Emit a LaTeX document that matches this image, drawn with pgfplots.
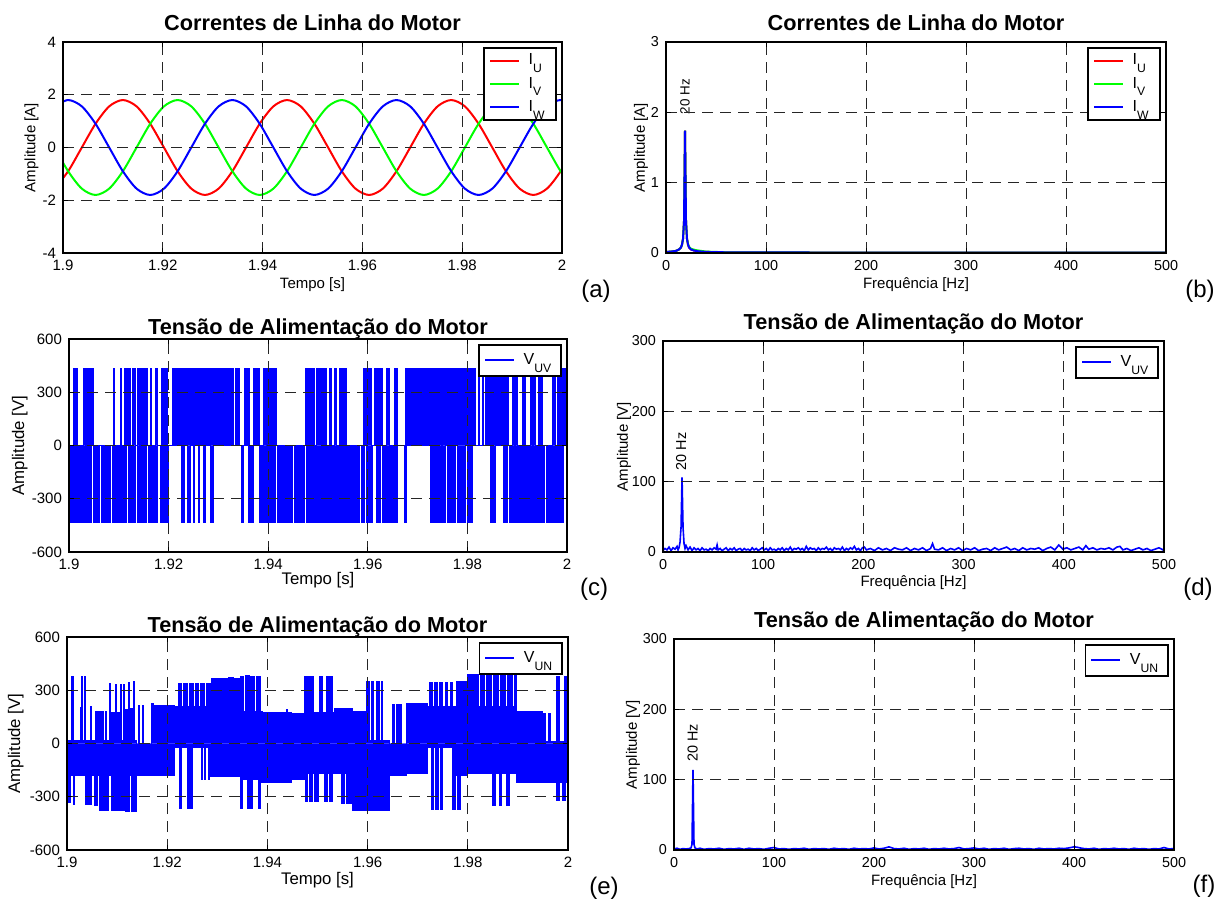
\documentclass[border=0pt]{standalone}
\usepackage{fontspec}
\setmainfont{Liberation Sans}
\usepackage{pgfplots}
\usepackage{pgfplotstable}
\pgfplotsset{compat=1.18}
\newcommand{\lsub}[1]{\raisebox{-3.9pt}{\fontsize{6.1}{6.5}\selectfont #1}}
\pgfplotsset{
 mstyle/.style={
  scale only axis, anchor=north west, axis on top,
  every axis title shift=0pt,
  axis line style={line width=0.75pt},
  grid=major,
  major grid style={black!85, dash pattern=on 5.5pt off 3.5pt, line width=0.5pt},
  tick align=inside, major tick length=2.5pt,
  tick style={black, line width=0.5pt},
  ticklabel style={font=\fontsize{7.5}{8}\selectfont},
  label style={font=\fontsize{7.5}{9}\selectfont},
  xlabel style={anchor=center}, ylabel style={anchor=center},
  title style={font=\bfseries\fontsize{10.85}{12}\selectfont, at={(axis description cs:0.5,1)}, anchor=base},
  legend style={draw=black, line width=0.85pt, fill=white, at={(1,1)}, anchor=north east,
    xshift=-2.75pt, yshift=-2.5pt, inner xsep=2.5pt, inner ysep=2.1pt,
    font=\fontsize{8}{8.5}\selectfont, row sep=3.1pt,
    nodes={inner sep=0.8pt},
    /tikz/every odd column/.append style={column sep=3.5pt}},
  legend cell align=left,
  legend image code/.code={\draw[#1, line width=1pt] (0pt,0pt) -- (14.5pt,0pt);},
 },
 onestyle/.style={legend style={inner ysep=3.4pt, row sep=0pt}},
}
\pgfplotstableread{
t r g b
1.89829 -1.559 0 1.559
1.90103 -0.9 -0.9 1.8
1.90377 0 -1.559 1.559
1.90652 0.9 -1.8 0.9
1.90926 1.559 -1.559 0
1.91200 1.8 -0.9 -0.9
1.91474 1.559 0 -1.559
1.91748 0.9 0.9 -1.8
1.92023 0 1.559 -1.559
1.92297 -0.9 1.8 -0.9
1.92571 -1.559 1.559 0
1.92845 -1.8 0.9 0.9
1.93119 -1.559 0 1.559
1.93394 -0.9 -0.9 1.8
1.93668 0 -1.559 1.559
1.93942 0.9 -1.8 0.9
1.94216 1.559 -1.559 0
1.94490 1.8 -0.9 -0.9
1.94764 1.559 0 -1.559
1.95038 0.9 0.9 -1.8
1.95313 0 1.559 -1.559
1.95587 -0.9 1.8 -0.9
1.95861 -1.559 1.559 0
1.96135 -1.8 0.9 0.9
1.96409 -1.559 0 1.559
1.96683 -0.9 -0.9 1.8
1.96958 0 -1.559 1.559
1.97232 0.9 -1.8 0.9
1.97506 1.559 -1.559 0
1.97780 1.8 -0.9 -0.9
1.98054 1.559 0 -1.559
1.98328 0.9 0.9 -1.8
1.98603 0 1.559 -1.559
1.98877 -0.9 1.8 -0.9
1.99151 -1.559 1.559 0
1.99425 -1.8 0.9 0.9
1.99699 -1.559 0 1.559
1.99973 -0.9 -0.9 1.8
2.00248 0 -1.559 1.559
}\currents
\begin{document}
\begin{tikzpicture}
\useasboundingbox (0,0) rectangle (610pt,-453pt);
% (a)
\begin{axis}[mstyle, at={(31.5pt,-21pt)}, width=249.5pt, height=105.5pt,
 xmin=1.9, xmax=2, ymin=-4, ymax=4,
 xtick={1.9,1.92,1.94,1.96,1.98,2}, xticklabels={1.9,1.92,1.94,1.96,1.98,2},
 ytick={-4,-2,0,2,4}, yticklabels={-4,-2,0,2,4},
 title={Correntes de Linha do Motor}, title style={yshift=5.6pt},
 xlabel={Tempo [s]}, xlabel style={at={(axis description cs:0.5,-0.152)}},
 ylabel={Amplitude [A]}, ylabel style={at={(axis description cs:-0.063,0.5)}},
]
\addplot[red, line width=1pt, smooth] table[x=t,y=r] {\currents};
\addlegendentry{I\lsub{U}\rule{2.2pt}{0pt}}
\addplot[green, line width=1pt, smooth] table[x=t,y=g] {\currents};
\addlegendentry{I\lsub{V}\rule{2.2pt}{0pt}}
\addplot[blue, line width=1pt, smooth] table[x=t,y=b] {\currents};
\addlegendentry{I\lsub{W}\rule{2.2pt}{0pt}}
\end{axis}
% (b)
\begin{axis}[mstyle, at={(333pt,-21pt)}, width=250pt, height=105.5pt,
 xmin=0, xmax=500, ymin=0, ymax=3,
 ticklabel style={font=\fontsize{7.2}{8}\selectfont},
 xtick={0,100,200,300,400,500}, xticklabels={0,100,200,300,400,500},
 ytick={0,1,2,3}, yticklabels={0,1,2,3},
 title={Correntes de Linha do Motor}, title style={yshift=5.6pt},
 xlabel={Frequência [Hz]}, xlabel style={at={(axis description cs:0.5,-0.152)}},
 ylabel={Amplitude [A]}, ylabel style={at={(axis description cs:-0.05,0.5)}},
]
\addplot[red, line width=1pt] coordinates {(0,0.015)(5,0.02)(10,0.03)(13,0.05)(15,0.08)(16,0.12)(17,0.2)(18,0.45)(19,1.74)(20,0.45)(21,0.2)(22,0.12)(23,0.08)(25,0.05)(28,0.035)(32,0.025)(40,0.015)(60,0.01)(100,0.008)(200,0.006)(300,0.005)(400,0.005)(500,0.005)};
\addlegendentry{I\lsub{U}\rule{2.2pt}{0pt}}
\addplot[green, line width=1pt] coordinates {(0,0.015)(5,0.02)(10,0.03)(13,0.05)(15,0.08)(16,0.12)(17,0.2)(18,0.45)(19,1.74)(20,0.45)(21,0.2)(22,0.13)(23,0.09)(25,0.06)(30,0.04)(35,0.03)(40,0.02)(60,0.01)(100,0.008)(200,0.006)(300,0.005)(400,0.005)(500,0.005)};
\addlegendentry{I\lsub{V}\rule{2.2pt}{0pt}}
\addplot[blue, line width=1pt] coordinates {(0,0.015)(5,0.02)(10,0.03)(13,0.05)(15,0.08)(16,0.12)(17,0.2)(18,0.45)(19,1.74)(20,0.45)(21,0.2)(22,0.12)(23,0.08)(25,0.05)(28,0.035)(32,0.025)(40,0.015)(60,0.01)(100,0.008)(200,0.006)(300,0.005)(400,0.005)(500,0.005)};
\addlegendentry{I\lsub{W}\rule{2.2pt}{0pt}}
\node[rotate=90, anchor=west, font=\fontsize{6.7}{7}\selectfont, inner sep=0pt] at (axis cs:19,1.97) {20 Hz};
\end{axis}
% (c)
\begin{axis}[mstyle, onestyle, at={(34.5pt,-169.5pt)}, width=249pt, height=106.5pt,
 xmin=1.9, xmax=2, ymin=-600, ymax=600,
 xtick={1.9,1.92,1.94,1.96,1.98,2}, xticklabels={1.9,1.92,1.94,1.96,1.98,2},
 ytick={-600,-300,0,300,600}, yticklabels={-600,-300,0,300,600},
 label style={font=\fontsize{8.4}{9}\selectfont},
 title={Tensão de Alimentação do Motor}, title style={yshift=2.25pt},
 xlabel={Tempo [s]}, xlabel style={at={(axis description cs:0.5,-0.131)}},
 ylabel={Amplitude [V]}, ylabel style={at={(axis description cs:-0.099,0.5)}},
]
\addlegendimage{blue, line width=1pt}
\addlegendentry{V\lsub{UV}\rule{1.4pt}{0pt}}
\addplot[forget plot, const plot, draw=blue, fill=blue, line width=0.5pt] coordinates {
(1.9000,0)
(1.9010,435)(1.9013,0)(1.9015,435)(1.9018,0)(1.9030,435)(1.9034,0)(1.9036,435)(1.9039,0)
(1.9041,435)(1.9045,0)(1.9048,435)(1.9049,0)(1.9089,435)(1.9091,0)(1.9103,435)(1.9106,0)
(1.9111,435)(1.9114,0)(1.9116,435)(1.9119,0)(1.9121,435)(1.9123,0)(1.9128,435)(1.9133,0)
(1.9138,435)(1.9142,0)(1.9144,435)(1.9148,0)(1.9150,435)(1.9153,0)(1.9155,435)(1.9157,0)
(1.9164,435)(1.9166,0)(1.9173,435)(1.9177,0)(1.9185,435)(1.9189,0)(1.9192,435)(1.9197,0)
(1.9207,435)(1.9212,0)(1.9214,435)(1.9256,0)(1.9258,435)(1.9298,0)(1.9300,435)(1.9330,0)
(1.9335,435)(1.9338,0)(1.9340,435)(1.9343,0)(1.9353,435)(1.9356,0)(1.9359,435)(1.9363,0)
(1.9370,435)(1.9374,0)(1.9377,435)(1.9383,0)(1.9390,435)(1.9396,0)(1.9399,435)(1.9404,0)
(1.9407,435)(1.9412,0)(1.9414,435)(1.9417,0)
(1.9475,435)(1.9480,0)(1.9482,435)(1.9493,0)(1.9497,435)(1.9507,0)(1.9510,435)(1.9517,0)
(1.9523,435)(1.9527,0)(1.9533,435)(1.9537,0)(1.9543,435)(1.9547,0)(1.9550,435)(1.9557,0)
(1.9591,435)(1.9596,0)(1.9598,435)(1.9607,0)(1.9613,435)(1.9617,0)(1.9620,435)(1.9624,0)
(1.9626,435)(1.9630,0)(1.9637,435)(1.9643,0)(1.9654,435)(1.9660,0)
(1.9675,435)(1.9718,0)(1.9720,435)(1.9765,0)(1.9767,435)(1.9817,0)
(1.9822,435)(1.9825,0)(1.9830,435)(1.9833,0)(1.9837,435)(1.9840,0)(1.9843,435)(1.9860,0)
(1.9862,435)(1.9883,0)(1.9890,435)(1.9894,0)(1.9897,435)(1.9900,0)(1.9910,435)(1.9917,0)
(1.9927,435)(1.9930,0)(1.9933,435)(1.9937,0)(1.9943,435)(1.9950,0)(1.9970,435)(1.9977,0)
(1.9980,435)(1.9984,0)(1.9987,435)(1.9990,0)(1.9993,435)(1.9997,0)
(2.0000,0)};
\addplot[forget plot, const plot, draw=blue, fill=blue, line width=0.5pt] coordinates {
(1.9000,0)(1.9000,-435)(1.9045,0)(1.9049,-435)(1.9062,0)(1.9065,-435)(1.9083,0)
(1.9087,-435)(1.9115,0)(1.9119,-435)(1.9134,0)(1.9137,-435)(1.9156,0)(1.9160,-435)(1.9177,0)
(1.9184,-435)(1.9200,0)
(1.9225,-435)(1.9231,0)(1.9237,-435)(1.9243,0)(1.9249,-435)(1.9253,0)(1.9260,-435)(1.9263,0)
(1.9270,-435)(1.9274,0)(1.9285,-435)(1.9290,0)
(1.9347,-435)(1.9351,0)(1.9360,-435)(1.9365,0)(1.9367,-435)(1.9370,0)
(1.9382,-435)(1.9415,0)(1.9419,-435)(1.9448,0)(1.9452,-435)(1.9473,0)(1.9477,-435)(1.9489,0)
(1.9491,-435)(1.9512,0)(1.9514,-435)(1.9546,0)(1.9548,-435)(1.9583,0)
(1.9587,-435)(1.9593,0)(1.9597,-435)(1.9610,0)(1.9617,-435)(1.9625,0)(1.9630,-435)(1.9645,0)
(1.9648,-435)(1.9660,0)(1.9673,-435)(1.9677,0)
(1.9725,-435)(1.9747,0)(1.9750,-435)(1.9757,0)(1.9760,-435)(1.9777,0)(1.9780,-435)(1.9797,0)
(1.9800,-435)(1.9810,0)
(1.9847,-435)(1.9857,0)(1.9873,-435)(1.9880,0)(1.9884,-435)(1.9920,0)(1.9923,-435)(1.9955,0)
(1.9958,-435)(1.9993,0)
(2.0000,0)};
\end{axis}
% (d)
\begin{axis}[mstyle, onestyle, at={(331.5pt,-170.5pt)}, width=250.5pt, height=105.5pt,
 xmin=0, xmax=500, ymin=0, ymax=300,
 ticklabel style={font=\fontsize{7.2}{8}\selectfont},
 xtick={0,100,200,300,400,500}, xticklabels={0,100,200,300,400,500},
 ytick={0,100,200,300}, yticklabels={0,100,200,300},
 title={Tensão de Alimentação do Motor}, title style={yshift=5.6pt},
 xlabel={Frequência [Hz]}, xlabel style={at={(axis description cs:0.5,-0.147)}},
 ylabel={Amplitude [V]}, ylabel style={at={(axis description cs:-0.078,0.5)}},
]
\addlegendimage{blue, line width=1pt}
\addlegendentry{V\lsub{UV}\rule{1.4pt}{0pt}}
\addplot[forget plot, blue, line width=0.8pt] coordinates {
(0,2)(2,5)(4,3)(6,7)(8,2)(10,6)(12,4)(14,8)(15,3)(16,6)(17,14)(18,35)(19,106)(20,35)(21,12)(22,5)(23,9)(25,3)(27,7)(29,2)
(31,6)(33,3)(35,5)(37,2)(39,6)(41,3)(43,4)(45,2)(47,5)(49,3)(51,6)(53,4)(54,10)(55,3)(57,5)(59,2)(61,4)(63,6)(65,2)(67,5)
(69,3)(71,6)(73,2)(75,4)(77,5)(79,2)(81,5)(83,3)(85,4)(87,2)(89,6)(91,3)(93,5)(95,2)(97,4)(99,6)(101,3)(103,5)(105,2)(107,6)
(109,3)(111,4)(113,2)(115,5)(117,3)(119,6)(121,2)(123,5)(125,3)(127,7)(129,2)(131,5)(133,4)(135,6)(137,3)(139,5)(141,2)(143,8)
(145,3)(147,6)(149,4)(151,5)(153,2)(155,6)(157,3)(159,5)(161,4)(163,7)(165,3)(167,5)(169,2)(171,6)(173,4)(175,5)(177,3)(179,7)
(181,2)(183,5)(185,3)(187,6)(189,4)(191,8)(193,3)(195,5)(197,2)(199,6)(201,7)(203,3)(207,5)(211,2)(215,6)(219,3)(223,5)(227,2)
(231,6)(235,4)(239,3)(243,6)(247,2)(251,5)(255,3)(259,6)(263,2)(267,5)(269,12)(271,4)(275,3)(279,6)(283,2)(287,5)(291,3)(295,6)
(299,2)(303,5)(307,3)(311,6)(315,2)(319,4)(323,5)(327,2)(331,6)(335,3)(339,5)(343,7)(347,3)(351,5)(355,2)(359,6)(363,3)(367,5)
(371,4)(375,6)(379,2)(383,5)(387,7)(391,3)(395,10)(399,4)(403,6)(407,3)(411,5)(415,7)(419,3)(422,9)(425,4)(429,6)(433,3)(437,5)
(441,4)(445,6)(449,3)(453,7)(456,8)(459,3)(463,5)(467,2)(471,4)(475,6)(479,3)(483,5)(487,2)(491,4)(495,6)(499,3)(500,5)};
\node[rotate=90, anchor=west, font=\fontsize{7.2}{8}\selectfont, inner sep=0pt] at (axis cs:18,116) {20 Hz};
\end{axis}
% (e)
\begin{axis}[mstyle, onestyle, at={(33.5pt,-318.5pt)}, width=250.5pt, height=106.5pt,
 xmin=1.9, xmax=2, ymin=-600, ymax=600,
 xtick={1.9,1.92,1.94,1.96,1.98,2}, xticklabels={1.9,1.92,1.94,1.96,1.98,2},
 ytick={-600,-300,0,300,600}, yticklabels={-600,-300,0,300,600},
 label style={font=\fontsize{8.4}{9}\selectfont},
 title={Tensão de Alimentação do Motor}, title style={yshift=2.25pt},
 xlabel={Tempo [s]}, xlabel style={at={(axis description cs:0.5,-0.141)}},
 ylabel={Amplitude [V]}, ylabel style={at={(axis description cs:-0.102,0.5)}},
]
\addlegendimage{blue, line width=1pt}
\addlegendentry{V\lsub{UN}\rule{1.4pt}{0pt}}
\addplot[forget plot, const plot, draw=blue, fill=blue, line width=0.5pt] coordinates {
(1.9000,0)(1.9000,15)(1.9009,380)(1.9012,15)(1.9026,205)(1.9028,15)(1.9029,380)(1.9031,15)
(1.9034,380)(1.9037,15)(1.9047,210)(1.9049,15)(1.9057,180)(1.9062,15)(1.9065,180)(1.9072,15)
(1.9076,180)(1.9078,15)(1.9084,340)(1.9086,15)(1.9089,175)(1.9095,15)(1.9096,330)(1.9098,15)
(1.9100,175)(1.9105,15)(1.9107,335)(1.9109,15)(1.9112,330)(1.9114,15)(1.9116,190)(1.9121,15)
(1.9122,345)(1.9124,15)(1.9126,200)(1.9132,15)(1.9133,350)(1.9135,15)(1.9138,-15)(1.9142,215)
(1.9144,-15)(1.9150,215)(1.9152,-15)(1.9168,225)(1.9172,215)(1.9186,20)(1.9188,215)(1.9204,20)
(1.9206,215)(1.9215,210)(1.9223,340)(1.9229,210)(1.9233,340)(1.9240,210)(1.9244,340)(1.9252,210)
(1.9256,340)(1.9263,210)(1.9267,340)(1.9275,210)(1.9279,340)(1.9286,210)(1.9289,365)(1.9296,210)
(1.9299,365)(1.9308,210)(1.9311,365)(1.9320,210)(1.9323,370)(1.9332,210)(1.9335,365)(1.9344,210)
(1.9347,380)(1.9353,180)(1.9356,382)(1.9364,180)(1.9367,380)(1.9375,180)(1.9378,380)(1.9387,180)
(1.9390,177)(1.9438,190)(1.9441,177)(1.9449,170)(1.9460,20)(1.9463,170)(1.9475,380)(1.9480,175)
(1.9483,380)(1.9493,175)(1.9503,380)(1.9510,175)(1.9517,380)(1.9530,175)(1.9533,200)(1.9570,180)
(1.9597,350)(1.9603,15)(1.9607,350)(1.9612,15)(1.9617,350)(1.9623,15)(1.9627,350)(1.9630,15)
(1.9643,-10)(1.9650,218)(1.9653,-10)(1.9658,218)(1.9661,-10)(1.9664,218)(1.9667,-10)(1.9677,228)
(1.9720,210)(1.9723,342)(1.9730,210)(1.9733,342)(1.9740,210)(1.9743,342)(1.9750,210)(1.9756,342)
(1.9760,210)(1.9765,342)(1.9770,210)(1.9777,350)(1.9785,210)(1.9788,350)(1.9800,390)(1.9809,210)
(1.9812,390)(1.9822,210)(1.9825,390)(1.9834,210)(1.9837,390)(1.9848,210)(1.9851,390)(1.9862,210)
(1.9865,390)(1.9876,210)(1.9879,385)(1.9890,210)(1.9893,385)(1.9897,180)(1.9950,171)(1.9955,10)
(1.9962,171)(1.9965,10)(1.9978,380)(1.9983,10)(1.9994,380)(1.9997,10)(2.0000,0)};
\addplot[forget plot, const plot, draw=blue, fill=blue, line width=0.5pt] coordinates {
(1.9000,0)(1.9000,-180)(1.9003,-330)(1.9006,-180)(1.9012,-345)(1.9015,-180)(1.9036,-345)(1.9040,-180)
(1.9043,-345)(1.9048,-180)(1.9055,-350)(1.9060,-180)(1.9065,-380)(1.9075,-180)(1.9077,-380)(1.9083,-180)
(1.9088,-380)(1.9094,-180)(1.9097,-380)(1.9102,-180)(1.9105,-380)(1.9114,-180)(1.9116,-385)(1.9125,-180)
(1.9128,-385)(1.9138,-180)(1.9215,-25)(1.9225,-365)(1.9229,-25)(1.9240,-365)(1.9245,-25)(1.9247,-365)
(1.9250,-25)(1.9268,-205)(1.9270,-25)(1.9275,-205)(1.9277,-25)(1.9282,-205)(1.9285,-25)(1.9287,-185)
(1.9346,-365)(1.9350,-200)(1.9360,-365)(1.9370,-200)(1.9382,-365)(1.9386,-200)(1.9389,-222)(1.9449,-200)
(1.9476,-325)(1.9480,-170)(1.9485,-325)(1.9490,-170)(1.9495,-325)(1.9502,-170)(1.9513,-325)(1.9520,-170)
(1.9523,-325)(1.9530,-170)(1.9547,-340)(1.9554,-170)(1.9558,-340)(1.9570,-380)(1.9643,-180)(1.9677,-171)
(1.9720,-20)(1.9727,-370)(1.9732,-20)(1.9736,-370)(1.9742,-20)(1.9745,-370)(1.9750,-20)(1.9770,-370)
(1.9775,-20)(1.9777,-180)(1.9780,-370)(1.9785,-180)(1.9800,-171)(1.9850,-350)(1.9855,-171)(1.9863,-350)
(1.9868,-171)(1.9878,-350)(1.9883,-171)(1.9897,-218)(1.9978,-323)(1.9983,-218)(1.9990,-323)(1.9995,-218)
(2.0000,0)};
\end{axis}
% (f)
\begin{axis}[mstyle, onestyle, at={(337pt,-319.5pt)}, width=250pt, height=105.5pt,
 xmin=0, xmax=500, ymin=0, ymax=300,
 ticklabel style={font=\fontsize{7.2}{8}\selectfont},
 xtick={0,100,200,300,400,500}, xticklabels={0,100,200,300,400,500},
 ytick={0,100,200,300}, yticklabels={0,100,200,300},
 title={Tensão de Alimentação do Motor}, title style={yshift=5.6pt},
 xlabel={Frequência [Hz]}, xlabel style={at={(axis description cs:0.5,-0.150)}},
 ylabel={Amplitude [V]}, ylabel style={at={(axis description cs:-0.082,0.5)}},
]
\addlegendimage{blue, line width=1pt}
\addlegendentry{V\lsub{UN}\rule{1.4pt}{0pt}}
\addplot[forget plot, blue, line width=0.8pt] coordinates {
(0,1.5)(3,2.5)(6,1)(9,2)(12,1.5)(15,2)(17,3)(18,8)(19,114)(20,8)(21,3)(23,1.5)(26,2.5)(30,1)(35,2)(40,1.5)(45,2.5)(50,1)
(55,2)(60,1.5)(65,2.5)(70,1)(75,2.5)(80,1.5)(85,2)(90,1)(95,2.5)(100,3.5)(105,1.5)(110,2)(115,1)(120,2)(125,1.5)(130,2.5)
(135,1)(140,2)(145,1.5)(150,2)(155,1)(160,2.5)(165,1.5)(170,2)(175,1)(180,2.5)(185,1.5)(190,2)(195,1.5)(200,3)(205,1.5)
(210,2.5)(215,4.5)(220,2)(225,1.5)(230,2.5)(235,1)(240,2)(245,1.5)(250,2.5)(255,1)(260,2)(265,1.5)(270,2.5)(275,1.5)(280,2)
(285,3.5)(290,1.5)(295,2)(300,3)(305,1.5)(310,2.5)(315,1)(320,2)(325,1.5)(330,2.5)(335,1)(340,2)(345,2.5)(350,1.5)(355,2)
(360,1)(365,2.5)(370,1.5)(375,2)(380,1.5)(385,2.5)(390,2)(395,3)(400,4.5)(403,4)(406,3)(410,2)(415,1.5)(420,2.5)(425,1)
(430,2)(435,1.5)(440,2.5)(445,1.5)(450,2)(455,1)(460,2.5)(465,1.5)(470,2)(475,1)(480,2)(485,1.5)(490,3.5)(495,1.5)(500,2)};
\node[rotate=90, anchor=west, font=\fontsize{7.2}{8}\selectfont, inner sep=0pt] at (axis cs:18.7,125) {20 Hz};
\end{axis}
% panel letters
\node[font=\fontsize{12}{13}\selectfont] at (298pt,-145.5pt) {(a)};
\node[font=\fontsize{12}{13}\selectfont] at (600pt,-145.5pt) {(b)};
\node[font=\fontsize{12}{13}\selectfont] at (297pt,-294.5pt) {(c)};
\node[font=\fontsize{12}{13}\selectfont] at (599pt,-294.5pt) {(d)};
\node[font=\fontsize{12}{13}\selectfont] at (302pt,-444pt) {(e)};
\node[font=\fontsize{12}{13}\selectfont] at (602pt,-443pt) {(f)};
\end{tikzpicture}
\end{document}
